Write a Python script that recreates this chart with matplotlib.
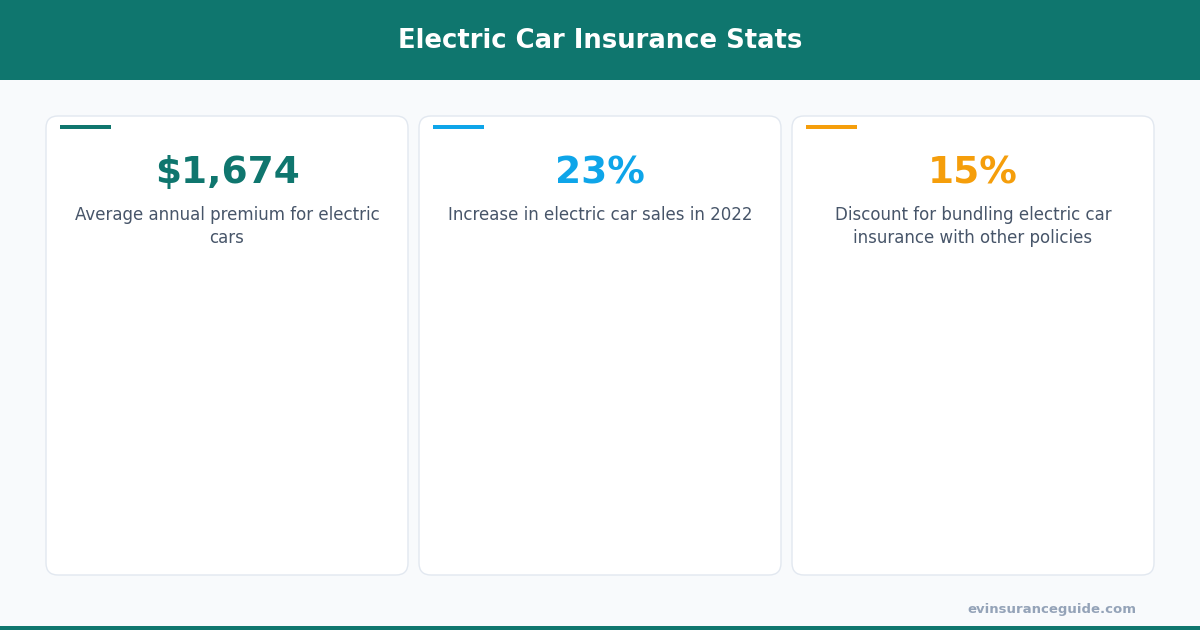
import matplotlib as mpl

mpl.use('Agg')
import matplotlib.pyplot as plt
from matplotlib.patches import FancyBboxPatch, Rectangle

# ---- data ----
title = "Electric Car Insurance Stats"
stat_values = ["$1,674", "23%", "15%"]
stat_labels = ["Average annual premium for electric\ncars",
               "Increase in electric car sales in 2022",
               "Discount for bundling electric car\ninsurance with other policies"]
stat_colors = ["#0f766e", "#0ea5e9", "#f59e0b"]
source = "evinsuranceguide.com"

TEAL = "#0f766e"
plt.rcParams['font.family'] = ['DejaVu Sans']

fig = plt.figure(figsize=(12, 6.3), dpi=100)
fig.patch.set_facecolor("#f8fafc")
ax = fig.add_axes([0, 0, 1, 1])
ax.set_xlim(0, 1200)
ax.set_ylim(630, 0)
ax.axis("off")

# header + bottom strip
ax.add_patch(Rectangle((0, 0), 1200, 80, color=TEAL, lw=0))
ax.add_patch(Rectangle((0, 626), 1200, 4, color=TEAL, lw=0))
ax.text(600, 41, title, color="white", fontsize=18.6, fontweight="bold",
        ha="center", va="center")

card_w, card_h, gap = 362, 459, 11
x0, y0 = 46, 116
for i, (val, lab, col) in enumerate(zip(stat_values, stat_labels, stat_colors)):
    cx = x0 + i * (card_w + gap)
    ax.add_patch(FancyBboxPatch((cx, y0), card_w, card_h,
                                boxstyle="round,pad=0,rounding_size=12",
                                fc="white", ec="#e2e8f0", lw=1))
    ax.add_patch(Rectangle((cx + 14, y0 + 9), 51, 4, color=col, lw=0))
    ax.text(cx + card_w / 2, 173, val, color=col, fontsize=27,
            fontweight="bold", ha="center", va="center")
    ax.text(cx + card_w / 2, 206, lab, color="#475569", fontsize=12,
            ha="center", va="top", linespacing=1.35)

ax.text(1136, 609, source, color="#94a3b8", fontsize=9.5, fontweight="bold",
        ha="right", va="center")

plt.savefig("out.png", dpi=100, facecolor=fig.get_facecolor())
